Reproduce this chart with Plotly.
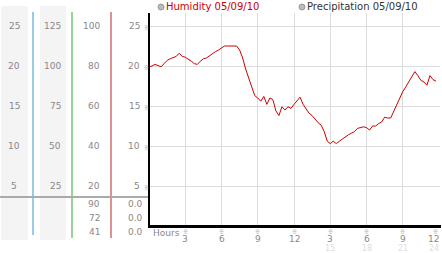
import plotly.graph_objects as go

W, H = 442, 253

# ---------------- data ----------------
hours = [i * 0.25 for i in range(96)]
humidity = [
    19.9, 20.0, 20.2, 20.0, 19.9, 20.3, 20.7, 20.9, 21.1, 21.2, 21.6, 21.2,
    21.1, 20.9, 20.6, 20.3, 20.2, 20.6, 20.9, 21.0, 21.3, 21.5, 21.8, 22.0,
    22.3, 22.5, 22.5, 22.5, 22.5, 22.5, 22.0, 21.0, 19.6, 18.5, 17.2, 16.3,
    16.0, 15.6, 16.2, 15.2, 16.0, 15.8, 14.4, 13.8, 14.9, 14.5, 14.9, 14.7,
    15.2, 15.6, 16.1, 15.2, 14.6, 14.1, 13.8, 13.3, 12.9, 12.6, 11.8, 10.6,
    10.3, 10.6, 10.3, 10.6, 10.9, 11.2, 11.4, 11.6, 11.8, 12.2, 12.3, 12.4,
    12.3, 12.0, 12.5, 12.5, 12.8, 13.0, 13.6, 13.5, 13.5, 14.3, 15.3, 16.0,
    16.8, 17.4, 18.0, 18.6, 19.3, 18.8, 18.2, 18.0, 17.6, 18.8, 18.3, 18.1,
]

y_ticks = [5, 10, 15, 20, 25]
col1_labels = ["5", "10", "15", "20", "25"]
col2_labels = ["25", "50", "75", "100", "125"]
col3_labels = ["20", "40", "60", "80", "100"]
col4_labels = ["5", "10", "15", "20", "25"]
col3_bottom = ["90", "72", "41"]
col4_bottom = ["0.0", "0.0", "0.0"]

x_ticks = [3, 6, 9, 12, 15, 18, 21, 24]
x_labels = ["3", "6", "9", "12", "3", "6", "9", "12"]
x_labels2 = ["", "", "", "", "15", "18", "21", "24"]

legend_items = ["Humidity 05/09/10", "Precipitation 05/09/10"]
legend_colors = ["#cc0000", "#333333"]

LINE_COLOR = "#cc0000"
FONT = "DejaVu Sans"
MARK_FONT = "Noto Sans CJK JP"


def px(x):
    return x / W


def py(y):
    return 1 - y / H


fig = go.Figure()
fig.add_trace(go.Scatter(
    x=hours, y=humidity, mode="lines",
    line=dict(color=LINE_COLOR, width=1), showlegend=False, hoverinfo="skip",
))

shapes = []
ann = []

# left panel backgrounds
for x0, x1 in [(1, 28), (40, 66)]:
    shapes.append(dict(type="rect", xref="paper", yref="paper",
                       x0=px(x0), x1=px(x1), y0=py(240), y1=py(6),
                       fillcolor="#f4f4f4", line_width=0, layer="below"))
# colored vertical lines
for x, c, yb in [(33, "#3399cc", 235), (72, "#33aa33", 238), (111, "#bb2222", 238)]:
    shapes.append(dict(type="line", xref="paper", yref="paper",
                       x0=px(x), x1=px(x), y0=py(yb), y1=py(12),
                       line=dict(color=c, width=1)))
# gray separator line
shapes.append(dict(type="line", xref="paper", yref="paper",
                   x0=0, x1=px(149), y0=py(197), y1=py(197),
                   line=dict(color="#aaaaaa", width=2)))
# axis lines
shapes.append(dict(type="line", xref="paper", yref="paper",
                   x0=px(149), x1=px(149), y0=py(227), y1=py(13),
                   line=dict(color="black", width=2)))
shapes.append(dict(type="line", xref="paper", yref="paper",
                   x0=px(148), x1=px(441), y0=py(226.5), y1=py(226.5),
                   line=dict(color="black", width=3)))

lab = dict(size=9, color="#888888", family=FONT)
mark = dict(size=5, color="#888888", family=MARK_FONT)
base = dict(showarrow=False, borderpad=0, yanchor="middle")

# left panel labels
for v, a, b, c, d in zip(y_ticks, col1_labels, col2_labels, col3_labels, col4_labels):
    ann.append(dict(x=px(14), y=v, xref="paper", yref="y", text=a,
                    xanchor="center", font=lab, **base))
    ann.append(dict(x=px(62), y=v, xref="paper", yref="y", text=b,
                    xanchor="right", font=lab, **base))
    ann.append(dict(x=px(101), y=v, xref="paper", yref="y", text=c,
                    xanchor="right", font=lab, **base))
    ann.append(dict(x=px(141), y=v, xref="paper", yref="y", text=d,
                    xanchor="right", font=lab, **base))
    ann.append(dict(x=px(146), y=v, xref="paper", yref="y", text="※",
                    xanchor="center", font=mark, **base))

for i, (a, b) in enumerate(zip(col3_bottom, col4_bottom)):
    yy = py(204 + 14 * i)
    ann.append(dict(x=px(101), y=yy, xref="paper", yref="paper", text=a,
                    xanchor="right", font=lab, **base))
    ann.append(dict(x=px(144), y=yy, xref="paper", yref="paper", text=b,
                    xanchor="right", font=lab, **base))

# x-axis labels
ann.append(dict(x=px(152), y=py(233), xref="paper", yref="paper", text="Hours",
                xanchor="left", font=lab, **base))
for t, l1, l2 in zip(x_ticks, x_labels, x_labels2):
    last = t == x_ticks[-1]
    xa = "right" if last else "center"
    xx = 24.08 if last else t
    ann.append(dict(x=t, y=py(230.5), xref="x", yref="paper", text="※",
                    xanchor=xa, font=mark, **base))
    ann.append(dict(x=xx, y=py(239), xref="x", yref="paper", text=l1,
                    xanchor=xa, font=lab, **base))
    if l2:
        ann.append(dict(x=xx, y=py(248.5), xref="x", yref="paper", text=l2,
                        xanchor=xa, font=dict(size=8, color="#dddddd", family=FONT),
                        **base))

# legend-like header
for xc, txt, col in zip([161, 302], legend_items, legend_colors):
    shapes.append(dict(type="circle", xref="paper", yref="paper",
                       x0=px(xc - 3), x1=px(xc + 3), y0=py(10), y1=py(4),
                       fillcolor="#bbbbbb", line=dict(color="#999999", width=1)))
    ann.append(dict(x=px(xc + 4), y=py(7), xref="paper", yref="paper", text=txt,
                    xanchor="left", font=dict(size=10, color=col, family=FONT), **base))

fig.update_layout(
    width=W, height=H,
    margin=dict(l=0, r=0, t=0, b=0),
    paper_bgcolor="white", plot_bgcolor="white",
    shapes=shapes, annotations=ann, showlegend=False,
    xaxis=dict(domain=[px(149), px(440)], range=[0, 24.08], tickvals=x_ticks,
               showticklabels=False, showgrid=True, gridcolor="#dddddd",
               gridwidth=1, zeroline=False, ticks="", fixedrange=True),
    yaxis=dict(domain=[py(226), py(13)], range=[0, 26.625], tickvals=y_ticks,
               showticklabels=False, showgrid=True, gridcolor="#dddddd",
               gridwidth=1, zeroline=False, ticks="", fixedrange=True),
)

fig.write_html("out.html")
